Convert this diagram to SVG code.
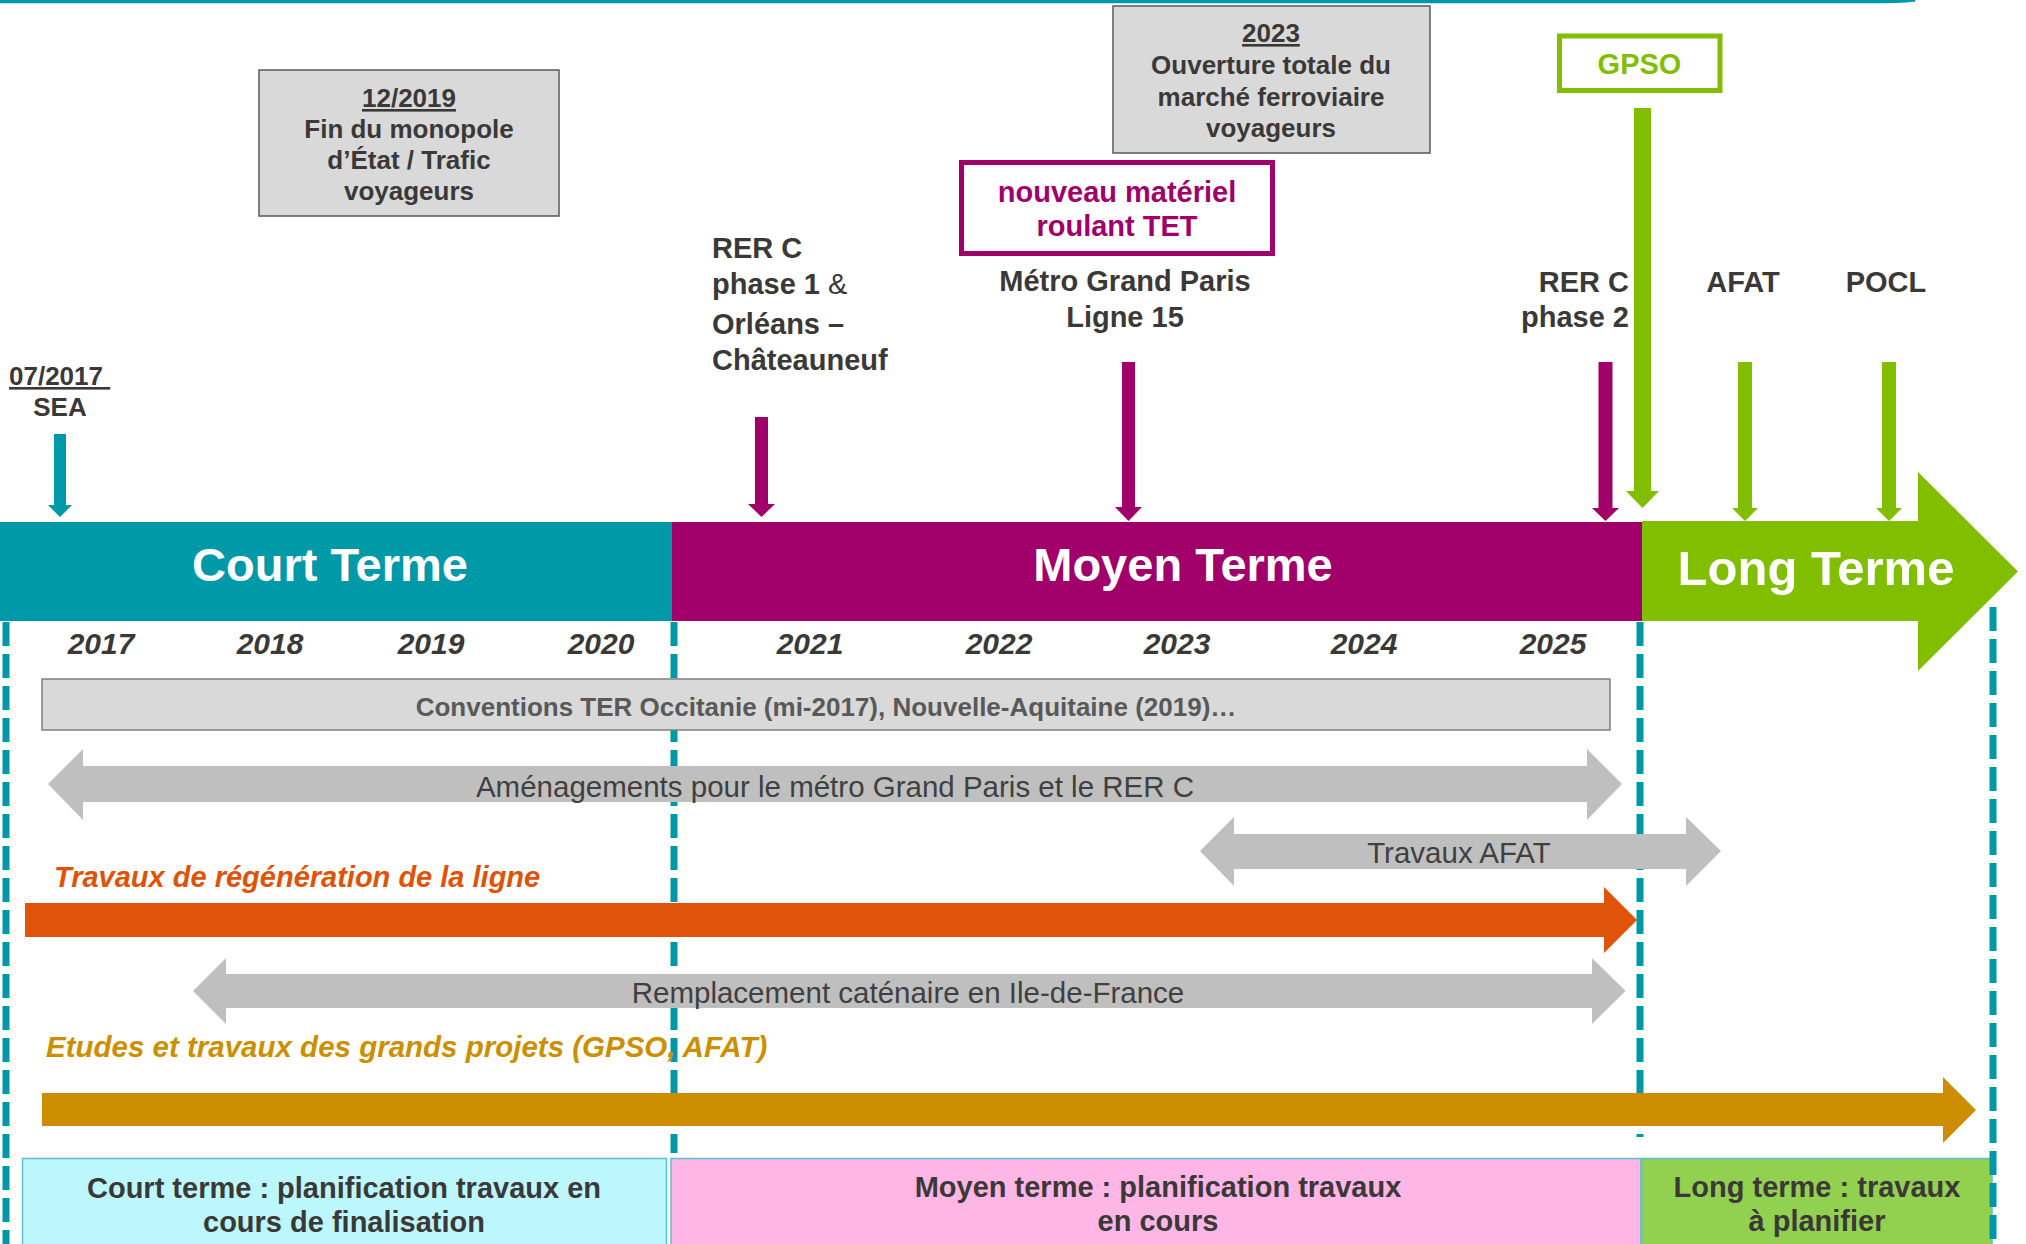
<svg xmlns="http://www.w3.org/2000/svg" width="2026" height="1244" viewBox="0 0 2026 1244">
  <style>
    text { font-family: "Liberation Sans", Arial, sans-serif; fill: #3B3838; }
    .b { font-weight: bold; }
    .mid { text-anchor: middle; }
    .end { text-anchor: end; }
    .box-gray { fill: #D9D9D9; stroke: #595959; stroke-width: 1.5; }
    .lbl26 { font-size: 26px; font-weight: bold; }
    .lbl29 { font-size: 29px; font-weight: bold; }
    .phase { font-size: 47px; font-weight: bold; fill: #FFFFFF; text-anchor: middle; }
    .year { font-size: 30px; font-weight: bold; font-style: italic; text-anchor: middle; }
    .bar-gray { fill: #BFBFBF; }
    .bar-txt { font-size: 29.5px; fill: #404040; text-anchor: middle; }
    .dash { stroke: #0098A6; stroke-width: 7; stroke-dasharray: 24 8; fill: none; }
    .teal { fill: #0099A7; }
    .mag { fill: #A1006B; }
    .green { fill: #82BE00; }
    .bottom { stroke: #5BC0CF; stroke-width: 1.5; }
  </style>

  <!-- header rule -->
  <path d="M0,1.5 H1870 Q1900,1.5 1915,0" stroke="#0099A7" stroke-width="3.5" fill="none"/>

  <!-- phase band -->
  <g id="court-terme">
    <rect class="teal" x="0" y="522" width="672" height="99"/>
    <text class="phase" x="330" y="581">Court Terme</text>
  </g>
  <g id="moyen-terme">
    <rect class="mag" x="672" y="522" width="970" height="99"/>
    <text class="phase" x="1183" y="581">Moyen Terme</text>
  </g>
  <g id="long-terme">
    <polygon class="green" points="1642,521 1918,521 1918,472 2018,571.5 1918,671 1918,621 1642,621"/>
    <text class="phase" x="1816" y="585" style="font-size:49px">Long Terme</text>
  </g>

  <!-- years -->
  <g id="years">
    <text class="year" x="101" y="654">2017</text>
    <text class="year" x="270" y="654">2018</text>
    <text class="year" x="431" y="654">2019</text>
    <text class="year" x="601" y="654">2020</text>
    <text class="year" x="810" y="654">2021</text>
    <text class="year" x="999" y="654">2022</text>
    <text class="year" x="1177" y="654">2023</text>
    <text class="year" x="1364" y="654">2024</text>
    <text class="year" x="1553" y="654">2025</text>
  </g>

  <!-- milestones above the band -->
  <g id="sea">
    <text class="lbl26" x="9" y="385" text-decoration="underline">07/2017&#160;</text>
    <text class="lbl26 mid" x="60" y="416">SEA</text>
  </g>
  <g id="fin-monopole">
    <rect class="box-gray" x="259" y="70" width="300" height="146"/>
    <text class="lbl26 mid" x="409" y="107" text-decoration="underline">12/2019</text>
    <text class="lbl26 mid" x="409" y="138">Fin du monopole</text>
    <text class="lbl26 mid" x="409" y="169">d’État / Trafic</text>
    <text class="lbl26 mid" x="409" y="200">voyageurs</text>
  </g>
  <g id="ouverture-2023">
    <rect class="box-gray" x="1113" y="6" width="317" height="147"/>
    <text class="lbl26 mid" x="1271" y="42" text-decoration="underline">2023</text>
    <text class="lbl26 mid" x="1271" y="74">Ouverture totale du</text>
    <text class="lbl26 mid" x="1271" y="106">marché ferroviaire</text>
    <text class="lbl26 mid" x="1271" y="137">voyageurs</text>
  </g>
  <g id="rer-c-phase1">
    <text class="lbl29" x="712" y="258">RER C</text>
    <text class="lbl29" x="712" y="294">phase 1 <tspan font-weight="normal">&amp;</tspan></text>
    <text class="lbl29" x="712" y="334">Orléans –</text>
    <text class="lbl29" x="712" y="370">Châteauneuf</text>
  </g>
  <g id="materiel-tet">
    <rect x="961.5" y="162.5" width="311" height="91" fill="none" stroke="#A1006B" stroke-width="5"/>
    <text class="lbl29 mid" x="1117" y="202" style="fill:#A1006B">nouveau matériel</text>
    <text class="lbl29 mid" x="1117" y="236" style="fill:#A1006B">roulant TET</text>
  </g>
  <g id="metro-gp">
    <text class="lbl29 mid" x="1125" y="291">Métro Grand Paris</text>
    <text class="lbl29 mid" x="1125" y="327">Ligne 15</text>
  </g>
  <g id="rer-c-phase2">
    <text class="lbl29 end" x="1629" y="292">RER C</text>
    <text class="lbl29 end" x="1629" y="327">phase 2</text>
  </g>
  <g id="gpso">
    <rect x="1559.5" y="36" width="160.5" height="54.5" fill="#FFFFFF" stroke="#82BE00" stroke-width="5"/>
    <text class="lbl29 mid" x="1639.5" y="74" style="fill:#82BE00">GPSO</text>
  </g>
  <g id="afat">
    <text class="lbl29 mid" x="1743" y="292">AFAT</text>
  </g>
  <g id="pocl">
    <text class="lbl29 mid" x="1886" y="292">POCL</text>
  </g>

  <!-- milestone arrows -->
  <g id="connectors">
    <path class="teal" d="M54,434 H66 V505 H72 L60,517 L48,505 H54 Z"/>
    <path class="mag" d="M755,417 H768 V504 H775 L761.5,517 L748,504 H755 Z"/>
    <path class="mag" d="M1122,362 H1135 V507 H1142 L1128.5,521 L1115,507 H1122 Z"/>
    <path class="mag" d="M1598.5,362 H1612.5 V508 H1619 L1605.5,521 L1592,508 H1598.5 Z"/>
    <path class="green" d="M1634,108 H1651 V491 H1659 L1642.5,508 L1626,491 H1634 Z"/>
    <path class="green" d="M1738,362 H1752 V508 H1758 L1745,521 L1732,508 H1738 Z"/>
    <path class="green" d="M1882,362 H1896 V508 H1902 L1889,521 L1876,508 H1882 Z"/>
  </g>

  <!-- planning summary boxes -->
  <g id="resume-court">
    <rect class="bottom" x="22.5" y="1158.5" width="644" height="95" fill="#BBF7FD"/>
    <text class="lbl29 mid" x="344" y="1198">Court terme : planification travaux en</text>
    <text class="lbl29 mid" x="344" y="1232">cours de finalisation</text>
  </g>
  <g id="resume-moyen">
    <rect class="bottom" x="671" y="1158.5" width="970" height="95" fill="#FDB6E6"/>
    <text class="lbl29 mid" x="1158" y="1197">Moyen terme : planification travaux</text>
    <text class="lbl29 mid" x="1158" y="1231">en cours</text>
  </g>
  <g id="resume-long">
    <rect class="bottom" x="1641.5" y="1158.5" width="350.5" height="95" fill="#92D050"/>
    <text class="lbl29 mid" x="1817" y="1197">Long terme : travaux</text>
    <text class="lbl29 mid" x="1817" y="1231">à planifier</text>
  </g>

  <!-- period separators (behind the work-stream bars) -->
  <g id="separators">
    <line class="dash" x1="6" y1="622" x2="6" y2="1244"/>
    <line class="dash" x1="674" y1="622" x2="674" y2="1153"/>
    <line class="dash" x1="1640" y1="622" x2="1640" y2="1137"/>
    <line class="dash" x1="1993" y1="607" x2="1993" y2="1244"/>
  </g>

  <!-- work streams -->
  <g id="conventions-ter">
    <rect x="42" y="679" width="1568" height="51" fill="#D9D9D9" stroke="#7F7F7F" stroke-width="1.5"/>
    <text x="826" y="716" class="mid" style="font-size:26px;font-weight:bold;fill:#595959">Conventions TER Occitanie (mi-2017),  Nouvelle-Aquitaine (2019)…</text>
  </g>
  <g id="amenagements">
    <path class="bar-gray" d="M48,784 L83,749 V766 H1587 V749 L1622,784 L1587,820 V802 H83 V820 Z"/>
    <text class="bar-txt" x="835" y="797">Aménagements pour le métro Grand Paris et le RER C</text>
  </g>
  <g id="travaux-afat">
    <path class="bar-gray" d="M1200,851 L1234,817 V834 H1686 V817 L1721,851 L1686,886 V869 H1234 V886 Z"/>
    <text class="bar-txt" x="1459" y="863">Travaux AFAT</text>
  </g>
  <g id="regeneration">
    <text x="54" y="887" style="font-size:29px;font-weight:bold;font-style:italic;fill:#E05206">Travaux de régénération de la ligne</text>
    <path d="M25,903 H1604 V887 L1637,920 L1604,953 V937 H25 Z" fill="#E0530A"/>
  </g>
  <g id="catenaire">
    <path class="bar-gray" d="M193,991 L226,958 V974 H1592 V958 L1625.5,991 L1592,1024 V1008 H226 V1024 Z"/>
    <text class="bar-txt" x="908" y="1003">Remplacement caténaire en Ile-de-France</text>
  </g>
  <g id="grands-projets">
    <text x="46" y="1057" style="font-size:29.5px;font-weight:bold;font-style:italic;fill:#CC8F00">Etudes et travaux des grands projets (GPSO, AFAT)</text>
    <path d="M42,1093 H1943 V1077 L1976,1110 L1943,1143 V1126 H42 Z" fill="#CC8E00"/>
  </g>
</svg>
